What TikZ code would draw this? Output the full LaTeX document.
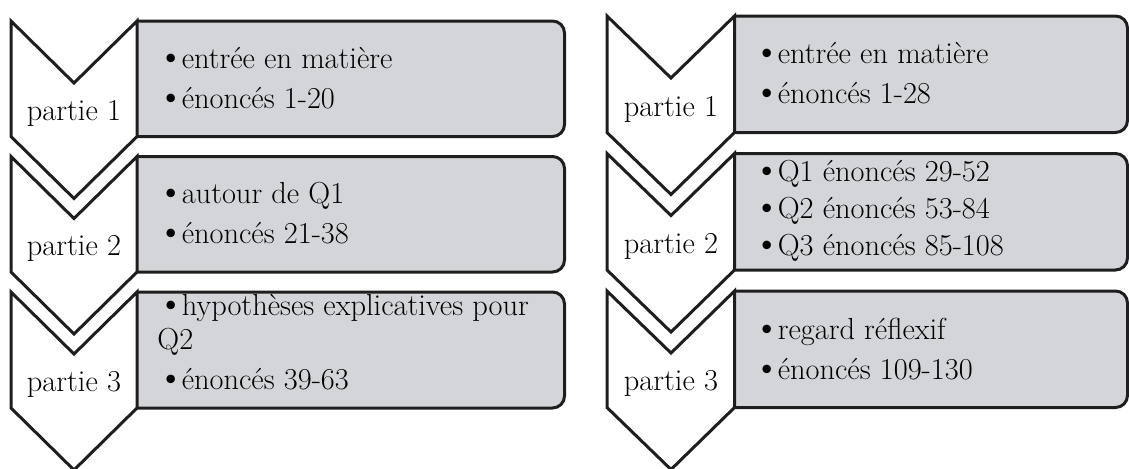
\documentclass[tikz,border=0pt]{standalone}
\usepackage{tikz}
\definecolor{boxgray}{RGB}{212,213,216}
\definecolor{edge}{RGB}{30,30,30}
\newcommand{\dotmark}{{\fontsize{19}{17}\selectfont\textbullet}\kern-1.5pt}
\tikzset{
    chevron/.style={draw=edge, fill=white, line width=1.5pt},
    listbox/.style={draw=edge, fill=boxgray, line width=1.5pt, rounded corners=6pt},
    partlabel/.style={font=\fontsize{15.2}{17}\selectfont, anchor=base, inner sep=0pt},
    itemtext/.style={font=\fontsize{15.2}{17}\selectfont, align=left, anchor=west, inner sep=0pt}
}

\begin{document}
\begin{tikzpicture}[x=0.5pt, y=-0.5pt]
    \useasboundingbox (0,0) rectangle (1129,468);

    % Boxes (left side hidden behind the chevrons)
    \begin{scope}
        \clip (137,0) rectangle (600,468) (734.5,0) rectangle (1129,468);
        \draw[listbox] (120,21) rectangle (564.5,136.5);
        \draw[listbox] (120,156.5) rectangle (564.5,272);
        \draw[listbox] (120,292) rectangle (564.5,408);
        \draw[listbox] (717,16) rectangle (1127.5,132.5);
        \draw[listbox] (717,153.5) rectangle (1127.5,270);
        \draw[listbox] (717,291) rectangle (1127.5,407.5);
    \end{scope}

    % Left panel: chevrons
    \draw[chevron] (11,21) -- (74,83) -- (137,21) -- (137,136.5) -- (74,198.5) -- (11,136.5) -- cycle;
    \draw[chevron] (11,156.5) -- (74,218.5) -- (137,156.5) -- (137,272) -- (74,334) -- (11,272) -- cycle;
    \draw[chevron] (11,292) -- (74,354) -- (137,292) -- (137,408) -- (74,470) -- (11,408) -- cycle;

    \node[partlabel] (lp1) at (74,120) {partie 1};
    \node[partlabel] (lp2) at (74,255.5) {partie 2};
    \node[partlabel] (lp3) at (74,391) {partie 3};

    \node[itemtext] (li1) at (157,78) {\dotmark entrée en matière\\[3pt]\dotmark énoncés 1-20};
    \node[itemtext] (li2) at (157,213) {\dotmark autour de Q1\\[3pt]\dotmark énoncés 21-38};
    \node[itemtext] (li3) at (157,342) {\dotmark hypothèses explicatives pour\\Q2\\[3pt]\dotmark énoncés 39-63};

    % Right panel: chevrons
    \draw[chevron] (607,16) -- (671,78) -- (734.5,16) -- (734.5,132.5) -- (671,194.5) -- (607,132.5) -- cycle;
    \draw[chevron] (607,153.5) -- (671,215.5) -- (734.5,153.5) -- (734.5,270) -- (671,332) -- (607,270) -- cycle;
    \draw[chevron] (607,291) -- (671,353) -- (734.5,291) -- (734.5,407.5) -- (671,469.5) -- (607,407.5) -- cycle;

    \node[partlabel] (rp1) at (671,116) {partie 1};
    \node[partlabel] (rp2) at (671,253.5) {partie 2};
    \node[partlabel] (rp3) at (671,390) {partie 3};

    \node[itemtext] (ri1) at (753,73) {\dotmark entrée en matière\\[3pt]\dotmark énoncés 1-28};
    \node[itemtext] (ri2) at (753,211) {\dotmark Q1 énoncés 29-52\\[1.5pt]\dotmark Q2 énoncés 53-84\\[1.5pt]\dotmark Q3 énoncés 85-108};
    \node[itemtext] (ri3) at (753,349) {\dotmark regard réflexif\\[3pt]\dotmark énoncés 109-130};
\end{tikzpicture}
\end{document}
